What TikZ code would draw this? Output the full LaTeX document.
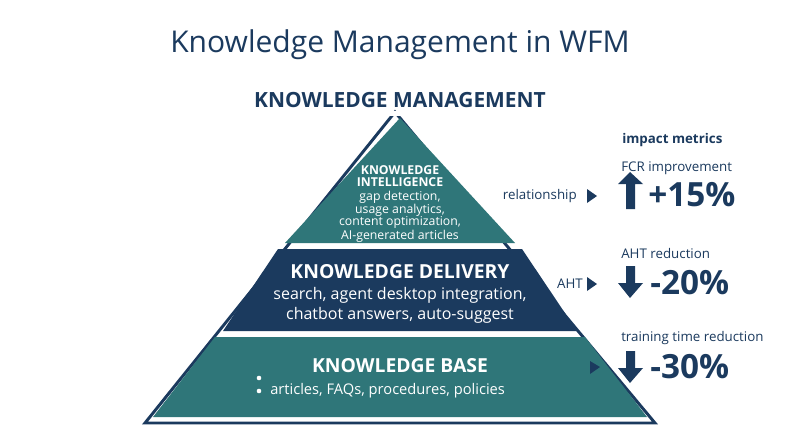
\documentclass[tikz,border=0pt]{standalone}
\usepackage{fontspec}
\setmainfont{Open Sans}
\definecolor{teal}{HTML}{2F7679}
\definecolor{navy}{HTML}{1B3A5E}
\begin{document}
\begin{tikzpicture}[x=0.75pt,y=-0.75pt,
  wt/.style={text=white,align=center,inner sep=0pt},
  nv/.style={text=navy,inner sep=0pt},
  lbl/.style={nv,font=\fontsize{10}{12}\selectfont},
  big/.style={nv,font=\fontsize{25}{27}\selectfont\bfseries,anchor=west}]
\useasboundingbox (0,0) rectangle (800,447);
\fill[white] (0,0) rectangle (800,447);
\node[nv,font=\fontsize{22.5}{26}\selectfont] (title) at (400,45) {Knowledge Management in WFM};
\node[nv,font=\fontsize{15.7}{18}\selectfont\bfseries] (km) at (400,100) {KNOWLEDGE MANAGEMENT};
\draw[navy,line width=2.2pt,line join=miter] (145,423) -- (395,112) -- (655,423) -- cycle;
\fill[white] (360,111) rectangle (440,116);
\fill[teal] (400,118) -- (515,243) -- (285,243) -- cycle;
\fill[navy] (278,249) -- (522,249) -- (577,331) -- (223,331) -- cycle;
\fill[teal] (215,337) -- (585,337) -- (647,417) -- (153,417) -- cycle;
\node[wt,font=\fontsize{9.2}{9}\selectfont] (ki) at (400,204) {\textbf{KNOWLEDGE}\\\textbf{INTELLIGENCE}\\[1pt]gap detection,\\usage analytics,\\content optimization,\\AI-generated articles};
\node[wt,font=\fontsize{14.5}{16}\selectfont\bfseries] (kd) at (400,272) {KNOWLEDGE DELIVERY};
\node[wt,font=\fontsize{12}{15}\selectfont] (kdt) at (400,305) {search, agent desktop integration,\\chatbot answers, auto-suggest};
\node[wt,font=\fontsize{14.5}{16}\selectfont\bfseries] (kb) at (400,366) {KNOWLEDGE BASE};
\node[wt,font=\fontsize{11}{13}\selectfont,anchor=west] (kbt) at (270,391) {articles, FAQs, procedures, policies};
\fill[white] (259,378) circle (2.3);
\fill[white] (259,391) circle (2.3);
% right side
\node[nv,font=\fontsize{10}{12}\selectfont\bfseries,anchor=west] (im) at (622,140) {impact metrics};
\node[lbl,anchor=west] (fcr) at (621,168) {FCR improvement};
\node[lbl,anchor=east] (rel) at (577,196) {relationship};
\fill[navy] (587,189) -- (597,196) -- (587,203) -- cycle;
\fill[navy] (618,184) -- (630,172) -- (643,184) -- (635,184) -- (635,209) -- (626,209) -- (626,184) -- cycle;
\node[big] (p15) at (648,195) {+15\%};
\node[lbl,anchor=west] (aht) at (621,253) {AHT reduction};
\node[lbl,anchor=east] (ahtl) at (583,284) {AHT};
\fill[navy] (587,277) -- (597,284) -- (587,291) -- cycle;
\fill[navy] (626,266) -- (635,266) -- (635,283) -- (643,283) -- (630,298) -- (618,283) -- (626,283) -- cycle;
\node[big] (m20) at (650,283) {-20\%};
\node[lbl,anchor=west] (ttr) at (621,338) {training time reduction};
\fill[navy] (590,361) -- (600,367) -- (590,374) -- cycle;
\fill[navy] (626,351) -- (635,351) -- (635,368) -- (643,368) -- (630,383) -- (618,368) -- (626,368) -- cycle;
\node[big] (m30) at (650,367) {-30\%};
\end{tikzpicture}
\end{document}
